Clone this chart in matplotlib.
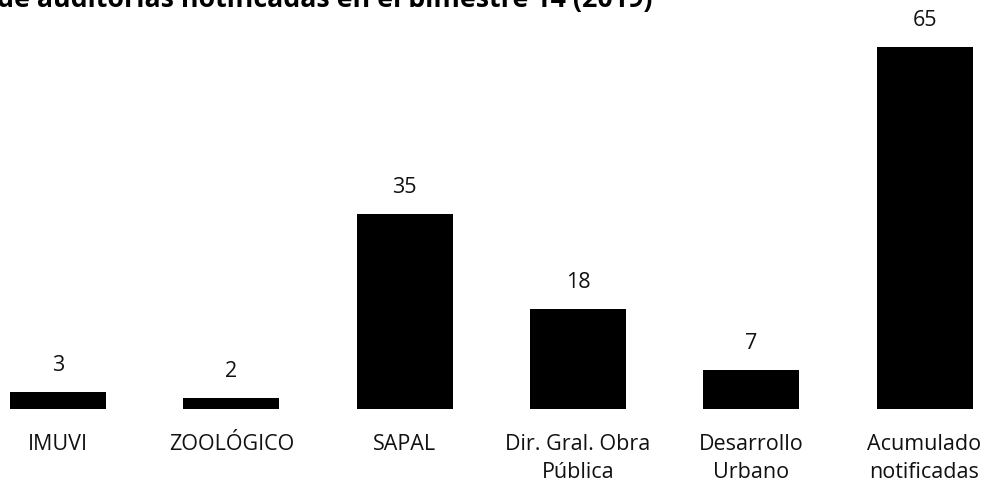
import matplotlib
matplotlib.use('Agg')
import matplotlib.pyplot as plt

# data
categorias = ['IMUVI', 'ZOOLÓGICO', 'SAPAL', 'Dir. Gral. Obra\nPública',
              'Desarrollo\nUrbano', 'Acumulado\nnotificadas']
auditorias = [3, 2, 35, 18, 7, 65]
titulo = 'Número de auditorías notificadas en el bimestre 14 (2019)'

plt.rcParams['font.family'] = ['Open Sans', 'DejaVu Sans']

fig = plt.figure(figsize=(9.84, 4.82), dpi=100)
# axes fill the width; the picture is a crop of a wider slide
ax = fig.add_axes([0, 73 / 482, 1, 409 / 482])

pos = list(range(len(categorias)))
bars = ax.bar(pos, auditorias, width=0.554, color='black')

ax.set_xlim(-0.335, 5.343)
ax.set_ylim(0, 73.5)

for b, v in zip(bars, auditorias):
    ax.annotate(str(v), (b.get_x() + b.get_width() / 2, b.get_height()),
                xytext=(0, 15), textcoords='offset points',
                ha='center', va='baseline', fontsize=15.5, color='#111111')

ax.set_xticks(pos)
ax.set_xticklabels(categorias, fontsize=15.5, color='#111111', linespacing=1.45)
ax.tick_params(axis='x', length=0, pad=18)
ax.set_yticks([])
for s in ax.spines.values():
    s.set_visible(False)

# title is cut off by the top/left edges of the image
fig.text(653 / 984, 1 - 7 / 482, titulo, ha='right', va='baseline',
         fontsize=19.3, fontweight='bold', color='black')

fig.savefig('out.png', dpi=100)
